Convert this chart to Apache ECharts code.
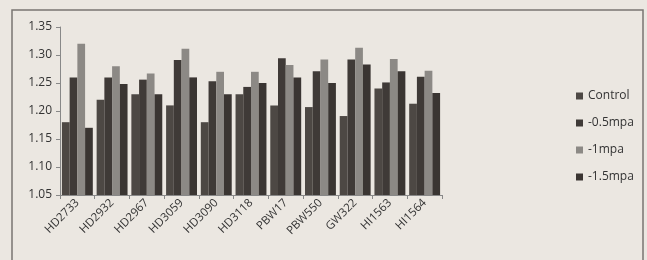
<!DOCTYPE html>
<html>
<head>
<meta charset="utf-8">
<script src="https://cdn.jsdelivr.net/npm/echarts@6/dist/echarts.min.js"></script>
<style>
  html, body { margin: 0; padding: 0; background: #ebe7e1; }
  #chart { width: 647px; height: 260px; }
</style>
</head>
<body>
<div id="chart"></div>
<script>
// categories and series
const categories = ['HD2733', 'HD2932', 'HD2967', 'HD3059', 'HD3090', 'HD3118', 'PBW17', 'PBW550', 'GW322', 'HI1563', 'HI1564']
const seriesNames = ['Control', '-0.5mpa', '-1mpa', '-1.5mpa']
const control = [1.18, 1.22, 1.23, 1.21, 1.18, 1.23, 1.21, 1.207, 1.191, 1.24, 1.213]
const mpa05 = [1.26, 1.26, 1.256, 1.291, 1.253, 1.243, 1.294, 1.271, 1.292, 1.251, 1.261]
const mpa1 = [1.32, 1.28, 1.267, 1.311, 1.27, 1.27, 1.282, 1.292, 1.313, 1.293, 1.272]
const mpa15 = [1.17, 1.248, 1.23, 1.26, 1.23, 1.25, 1.26, 1.25, 1.283, 1.271, 1.232]
const yTicks = [1.05, 1.35, 0.05]

const colors = ['#4d4844', '#3f3a37', '#8c8985', '#3a3532']
const chart = echarts.init(document.getElementById('chart'), null, { renderer: 'canvas' })

chart.setOption({
  animation: false,
  backgroundColor: '#ebe7e1',
  color: colors,
  textStyle: { fontFamily: 'Open Sans', color: '#333' },
  graphic: [
    {
      type: 'rect',
      shape: { x: 12, y: 10, width: 631, height: 260 },
      style: { fill: 'none', stroke: '#7a7672', lineWidth: 1.5 }
    }
  ],
  legend: {
    orient: 'vertical',
    left: 571,
    top: 85,
    itemWidth: 7,
    itemHeight: 7,
    itemGap: 15,
    icon: 'rect',
    textStyle: { fontSize: 12, color: '#333', fontFamily: 'Open Sans' },
    data: seriesNames
  },
  grid: {
    left: 60,
    right: 205,
    top: 27,
    bottom: 65,
    containLabel: false
  },
  xAxis: {
    type: 'category',
    data: categories,
    axisLine: { lineStyle: { color: '#888', width: 1 } },
    axisTick: { show: true, alignWithLabel: false, length: 4, lineStyle: { color: '#888' } },
    axisLabel: {
      rotate: 45,
      fontSize: 11.5,
      color: '#333',
      margin: 6,
      interval: 0
    }
  },
  yAxis: {
    type: 'value',
    min: yTicks[0],
    max: yTicks[1],
    interval: yTicks[2],
    axisLine: { show: true, lineStyle: { color: '#888' } },
    axisTick: { show: true, length: 4, lineStyle: { color: '#888' } },
    splitLine: { show: false },
    axisLabel: {
      fontSize: 12,
      color: '#333',
      margin: 8,
      formatter: v => v.toFixed(2)
    }
  },
  series: [
    { name: seriesNames[0], type: 'bar', data: control, barGap: '0%', barCategoryGap: '11%' },
    { name: seriesNames[1], type: 'bar', data: mpa05, barGap: '0%', barCategoryGap: '11%' },
    { name: seriesNames[2], type: 'bar', data: mpa1, barGap: '0%', barCategoryGap: '11%' },
    { name: seriesNames[3], type: 'bar', data: mpa15, barGap: '0%', barCategoryGap: '11%' }
  ]
})
</script>
</body>
</html>
